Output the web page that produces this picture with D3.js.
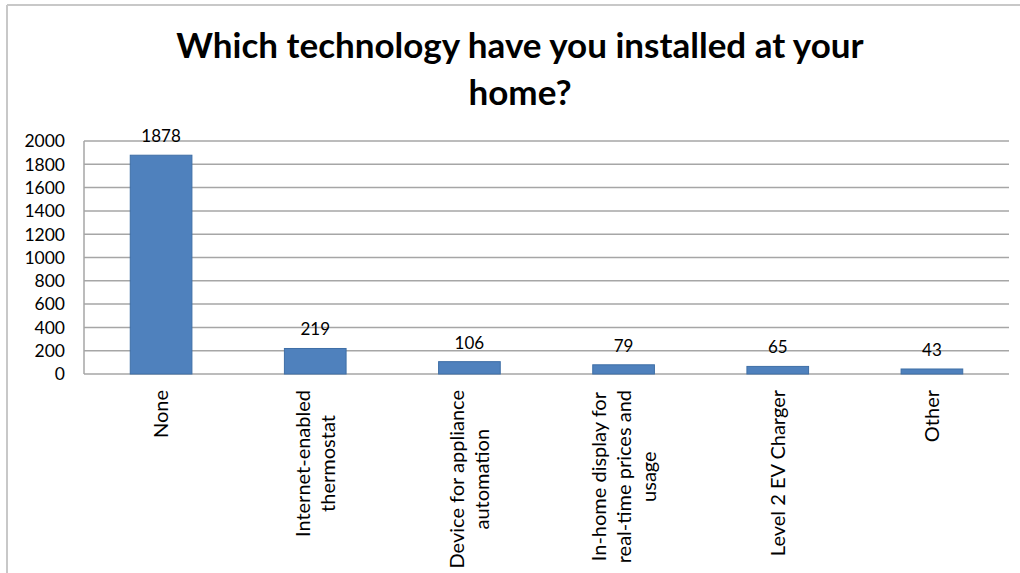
<!DOCTYPE html>
<html><head><meta charset="utf-8">
<script src="https://cdn.jsdelivr.net/npm/d3@7"></script>
<style>html,body{margin:0;padding:0;background:#fff;}svg{display:block;}</style>
</head><body>
<script>
const categories = [
  ["None"],
  ["Internet-enabled", "thermostat"],
  ["Device for appliance", "automation"],
  ["In-home display for", "real-time prices and", "usage"],
  ["Level 2 EV Charger"],
  ["Other"]
];
const values = [1878, 219, 106, 79, 65, 43];
const yTicks = [0, 200, 400, 600, 800, 1000, 1200, 1400, 1600, 1800, 2000];
const titleLines = ["Which technology have you installed at your", "home?"];

const W = 1020, H = 573;
const svg = d3.select("body").append("svg").attr("width", W).attr("height", H);
const font = "Lato, 'Open Sans', sans-serif";

// frame
svg.append("line").attr("x1", 7).attr("x2", W).attr("y1", 5).attr("y2", 5).attr("stroke", "#c8c8c8").attr("stroke-width", 2);
svg.append("line").attr("x1", 7).attr("x2", 7).attr("y1", 5).attr("y2", H).attr("stroke", "#c8c8c8").attr("stroke-width", 2);

const pLeft = 84, pRight = 1009, pTop = 141, pBottom = 374;
const x = d3.scaleBand().domain(d3.range(categories.length)).range([pLeft, pRight]).paddingInner(0.6).paddingOuter(0.3);
const y = d3.scaleLinear().domain([0, 2000]).range([pBottom, pTop]);

// gridlines
svg.append("g").selectAll("line").data(yTicks).join("line")
  .attr("x1", pLeft).attr("x2", pRight)
  .attr("y1", d => y(d)).attr("y2", d => y(d))
  .attr("stroke", "#a6a6a6").attr("stroke-width", 1.5);
// y axis line
svg.append("line").attr("x1", pLeft).attr("x2", pLeft).attr("y1", pTop).attr("y2", pBottom).attr("stroke", "#a6a6a6").attr("stroke-width", 1.5);

// y tick labels
svg.append("g").selectAll("text").data(yTicks).join("text")
  .attr("x", 65).attr("y", d => y(d)).attr("dy", "0.36em")
  .attr("text-anchor", "end").attr("font-family", font).attr("font-size", 17.5).attr("fill", "#000")
  .text(d => d);

// bars
svg.append("g").selectAll("rect").data(values).join("rect")
  .attr("x", (d, i) => x(i)).attr("width", x.bandwidth())
  .attr("y", d => y(d)).attr("height", d => pBottom - y(d))
  .attr("fill", "#4f81bd").attr("stroke", "#3f6fa6").attr("stroke-width", 1);

// value labels
svg.append("g").selectAll("text").data(values).join("text")
  .attr("x", (d, i) => x(i) + x.bandwidth() / 2).attr("y", d => y(d) - 13)
  .attr("text-anchor", "middle").attr("font-family", font).attr("font-size", 17).attr("fill", "#000")
  .text(d => d);

// category labels (rotated, center-aligned lines)
const lineH = 25, fs = 20;
categories.forEach((lines, i) => {
  const cx = x(i) + x.bandwidth() / 2;
  const g = svg.append("g");
  const texts = lines.map(l => g.append("text").attr("font-family", font).attr("font-size", fs).attr("fill", "#000").attr("text-anchor", "middle").text(l));
  const maxLen = d3.max(texts, t => t.node().getComputedTextLength());
  const cy = 390 + maxLen / 2;
  const n = lines.length;
  texts.forEach((t, k) => {
    const off = (k - (n - 1) / 2) * lineH;
    t.attr("transform", `translate(${cx + off},${cy}) rotate(-90)`).attr("dy", "0.35em");
  });
});

// title
svg.append("g").selectAll("text").data(titleLines).join("text")
  .attr("x", 520).attr("y", (d, i) => 58 + i * 47)
  .attr("text-anchor", "middle").attr("font-family", font).attr("font-weight", "bold").attr("font-size", 35).attr("fill", "#000")
  .text(d => d);
</script>
</body></html>
